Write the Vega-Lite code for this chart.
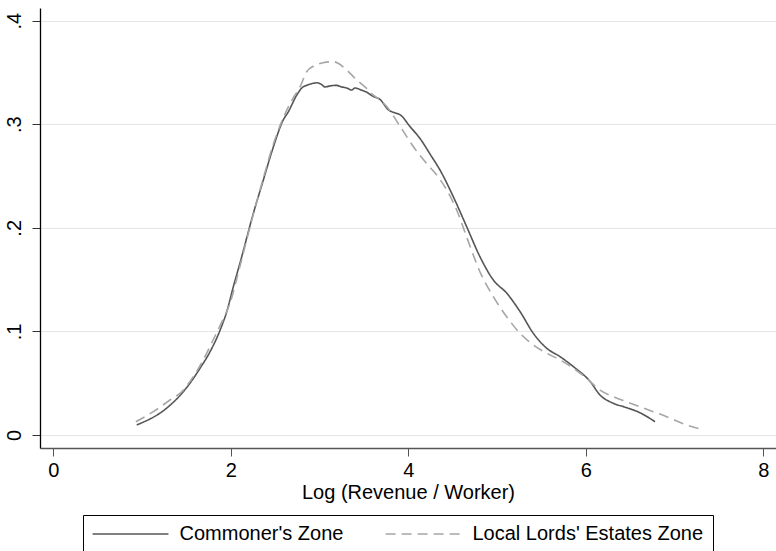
{
  "$schema": "https://vega.github.io/schema/vega-lite/v6.json",
  "width": 736,
  "height": 440,
  "autosize": {"type": "none"},
  "padding": {"left": 40, "top": 8, "right": 0, "bottom": 103},
  "background": "white",
  "config": {
    "view": {"stroke": null},
    "font": "Liberation Sans",
    "axis": {"labelFont": "Liberation Sans", "titleFont": "Liberation Sans", "labelColor": "black", "titleColor": "black", "titleFontWeight": "normal"},
    "legend": {"labelFont": "Liberation Sans"}
  },
  "data": {
    "values": [
      {"x": 0.94, "y": 0.0097, "zone": "Commoner's Zone"},
      {"x": 1.26, "y": 0.0248, "zone": "Commoner's Zone"},
      {"x": 1.465, "y": 0.0418, "zone": "Commoner's Zone"},
      {"x": 1.54, "y": 0.050, "zone": "Commoner's Zone"},
      {"x": 1.653, "y": 0.0644, "zone": "Commoner's Zone"},
      {"x": 1.766, "y": 0.0804, "zone": "Commoner's Zone"},
      {"x": 1.88, "y": 0.1014, "zone": "Commoner's Zone"},
      {"x": 1.954, "y": 0.119, "zone": "Commoner's Zone"},
      {"x": 2.028, "y": 0.143, "zone": "Commoner's Zone"},
      {"x": 2.11, "y": 0.168, "zone": "Commoner's Zone"},
      {"x": 2.254, "y": 0.214, "zone": "Commoner's Zone"},
      {"x": 2.366, "y": 0.246, "zone": "Commoner's Zone"},
      {"x": 2.479, "y": 0.278, "zone": "Commoner's Zone"},
      {"x": 2.59, "y": 0.304, "zone": "Commoner's Zone"},
      {"x": 2.648, "y": 0.312, "zone": "Commoner's Zone"},
      {"x": 2.742, "y": 0.328, "zone": "Commoner's Zone"},
      {"x": 2.80, "y": 0.335, "zone": "Commoner's Zone"},
      {"x": 2.87, "y": 0.338, "zone": "Commoner's Zone"},
      {"x": 2.93, "y": 0.3395, "zone": "Commoner's Zone"},
      {"x": 2.968, "y": 0.340, "zone": "Commoner's Zone"},
      {"x": 3.02, "y": 0.3385, "zone": "Commoner's Zone"},
      {"x": 3.06, "y": 0.336, "zone": "Commoner's Zone"},
      {"x": 3.12, "y": 0.337, "zone": "Commoner's Zone"},
      {"x": 3.19, "y": 0.3375, "zone": "Commoner's Zone"},
      {"x": 3.25, "y": 0.336, "zone": "Commoner's Zone"},
      {"x": 3.306, "y": 0.335, "zone": "Commoner's Zone"},
      {"x": 3.36, "y": 0.333, "zone": "Commoner's Zone"},
      {"x": 3.40, "y": 0.335, "zone": "Commoner's Zone"},
      {"x": 3.47, "y": 0.333, "zone": "Commoner's Zone"},
      {"x": 3.53, "y": 0.331, "zone": "Commoner's Zone"},
      {"x": 3.60, "y": 0.327, "zone": "Commoner's Zone"},
      {"x": 3.68, "y": 0.324, "zone": "Commoner's Zone"},
      {"x": 3.778, "y": 0.3137, "zone": "Commoner's Zone"},
      {"x": 3.85, "y": 0.311, "zone": "Commoner's Zone"},
      {"x": 3.91, "y": 0.309, "zone": "Commoner's Zone"},
      {"x": 4.02, "y": 0.2976, "zone": "Commoner's Zone"},
      {"x": 4.13, "y": 0.2864, "zone": "Commoner's Zone"},
      {"x": 4.264, "y": 0.2686, "zone": "Commoner's Zone"},
      {"x": 4.357, "y": 0.2558, "zone": "Commoner's Zone"},
      {"x": 4.507, "y": 0.230, "zone": "Commoner's Zone"},
      {"x": 4.658, "y": 0.201, "zone": "Commoner's Zone"},
      {"x": 4.808, "y": 0.172, "zone": "Commoner's Zone"},
      {"x": 4.958, "y": 0.1496, "zone": "Commoner's Zone"},
      {"x": 5.11, "y": 0.1368, "zone": "Commoner's Zone"},
      {"x": 5.26, "y": 0.119, "zone": "Commoner's Zone"},
      {"x": 5.41, "y": 0.098, "zone": "Commoner's Zone"},
      {"x": 5.56, "y": 0.0837, "zone": "Commoner's Zone"},
      {"x": 5.71, "y": 0.0756, "zone": "Commoner's Zone"},
      {"x": 5.86, "y": 0.066, "zone": "Commoner's Zone"},
      {"x": 6.05, "y": 0.0515, "zone": "Commoner's Zone"},
      {"x": 6.16, "y": 0.0386, "zone": "Commoner's Zone"},
      {"x": 6.31, "y": 0.0306, "zone": "Commoner's Zone"},
      {"x": 6.46, "y": 0.0264, "zone": "Commoner's Zone"},
      {"x": 6.61, "y": 0.0215, "zone": "Commoner's Zone"},
      {"x": 6.78, "y": 0.0128, "zone": "Commoner's Zone"},
      {"x": 0.93, "y": 0.0128, "zone": "Local Lords' Estates Zone"},
      {"x": 1.127, "y": 0.0225, "zone": "Local Lords' Estates Zone"},
      {"x": 1.315, "y": 0.0338, "zone": "Local Lords' Estates Zone"},
      {"x": 1.447, "y": 0.0418, "zone": "Local Lords' Estates Zone"},
      {"x": 1.577, "y": 0.0563, "zone": "Local Lords' Estates Zone"},
      {"x": 1.69, "y": 0.0724, "zone": "Local Lords' Estates Zone"},
      {"x": 1.80, "y": 0.0917, "zone": "Local Lords' Estates Zone"},
      {"x": 1.90, "y": 0.1094, "zone": "Local Lords' Estates Zone"},
      {"x": 1.99, "y": 0.127, "zone": "Local Lords' Estates Zone"},
      {"x": 2.10, "y": 0.162, "zone": "Local Lords' Estates Zone"},
      {"x": 2.25, "y": 0.212, "zone": "Local Lords' Estates Zone"},
      {"x": 2.37, "y": 0.249, "zone": "Local Lords' Estates Zone"},
      {"x": 2.48, "y": 0.281, "zone": "Local Lords' Estates Zone"},
      {"x": 2.59, "y": 0.306, "zone": "Local Lords' Estates Zone"},
      {"x": 2.70, "y": 0.325, "zone": "Local Lords' Estates Zone"},
      {"x": 2.78, "y": 0.336, "zone": "Local Lords' Estates Zone"},
      {"x": 2.855, "y": 0.3507, "zone": "Local Lords' Estates Zone"},
      {"x": 2.93, "y": 0.356, "zone": "Local Lords' Estates Zone"},
      {"x": 3.04, "y": 0.3594, "zone": "Local Lords' Estates Zone"},
      {"x": 3.155, "y": 0.3604, "zone": "Local Lords' Estates Zone"},
      {"x": 3.21, "y": 0.3588, "zone": "Local Lords' Estates Zone"},
      {"x": 3.306, "y": 0.3523, "zone": "Local Lords' Estates Zone"},
      {"x": 3.42, "y": 0.3427, "zone": "Local Lords' Estates Zone"},
      {"x": 3.53, "y": 0.3346, "zone": "Local Lords' Estates Zone"},
      {"x": 3.606, "y": 0.328, "zone": "Local Lords' Estates Zone"},
      {"x": 3.68, "y": 0.3235, "zone": "Local Lords' Estates Zone"},
      {"x": 3.757, "y": 0.317, "zone": "Local Lords' Estates Zone"},
      {"x": 3.91, "y": 0.2976, "zone": "Local Lords' Estates Zone"},
      {"x": 4.06, "y": 0.278, "zone": "Local Lords' Estates Zone"},
      {"x": 4.207, "y": 0.262, "zone": "Local Lords' Estates Zone"},
      {"x": 4.32, "y": 0.251, "zone": "Local Lords' Estates Zone"},
      {"x": 4.433, "y": 0.2365, "zone": "Local Lords' Estates Zone"},
      {"x": 4.546, "y": 0.217, "zone": "Local Lords' Estates Zone"},
      {"x": 4.658, "y": 0.191, "zone": "Local Lords' Estates Zone"},
      {"x": 4.81, "y": 0.157, "zone": "Local Lords' Estates Zone"},
      {"x": 4.958, "y": 0.1335, "zone": "Local Lords' Estates Zone"},
      {"x": 5.11, "y": 0.114, "zone": "Local Lords' Estates Zone"},
      {"x": 5.26, "y": 0.098, "zone": "Local Lords' Estates Zone"},
      {"x": 5.41, "y": 0.0869, "zone": "Local Lords' Estates Zone"},
      {"x": 5.56, "y": 0.0789, "zone": "Local Lords' Estates Zone"},
      {"x": 5.71, "y": 0.0724, "zone": "Local Lords' Estates Zone"},
      {"x": 5.86, "y": 0.0644, "zone": "Local Lords' Estates Zone"},
      {"x": 6.01, "y": 0.0547, "zone": "Local Lords' Estates Zone"},
      {"x": 6.16, "y": 0.0434, "zone": "Local Lords' Estates Zone"},
      {"x": 6.31, "y": 0.037, "zone": "Local Lords' Estates Zone"},
      {"x": 6.46, "y": 0.0321, "zone": "Local Lords' Estates Zone"},
      {"x": 6.61, "y": 0.0273, "zone": "Local Lords' Estates Zone"},
      {"x": 6.76, "y": 0.0225, "zone": "Local Lords' Estates Zone"},
      {"x": 6.91, "y": 0.0177, "zone": "Local Lords' Estates Zone"},
      {"x": 7.137, "y": 0.0097, "zone": "Local Lords' Estates Zone"},
      {"x": 7.29, "y": 0.0058, "zone": "Local Lords' Estates Zone"}
    ]
  },
  "mark": {"type": "line", "strokeWidth": 1.6, "interpolate": "monotone", "clip": true},
  "encoding": {
    "x": {
      "field": "x", "type": "quantitative",
      "scale": {"domain": [-0.15, 8.143], "nice": false, "zero": false},
      "axis": {
        "title": "Log (Revenue / Worker)", "titleFontSize": 20, "titlePadding": 2,
        "values": [0, 2, 4, 6, 8], "format": "d", "labelFontSize": 20, "labelPadding": 4,
        "tickSize": 8, "tickColor": "#555555", "domainColor": "#555555", "domainWidth": 1.3,
        "grid": false, "labelFlush": false
      }
    },
    "y": {
      "field": "y", "type": "quantitative",
      "scale": {"domain": [-0.01255, 0.4122], "nice": false, "zero": false},
      "axis": {
        "title": null, "values": [0, 0.1, 0.2, 0.3, 0.4],
        "labelExpr": "datum.value == 0 ? '0' : replace(format(datum.value, '.1f'), '0.', '.')",
        "labelFontSize": 20, "labelAngle": 270, "labelAlign": "center", "labelBaseline": "bottom",
        "labelPadding": 8, "tickSize": 8, "tickColor": "#333333", "domainColor": "black", "domainWidth": 1.3,
        "grid": true, "gridColor": "#e6e6e6", "gridWidth": 1.2, "labelFlush": false
      }
    },
    "color": {
      "field": "zone", "type": "nominal",
      "scale": {"domain": ["Commoner's Zone", "Local Lords' Estates Zone"], "range": ["#555555", "#a6a6a6"]},
      "legend": {
        "title": null, "orient": "none", "legendX": 43, "legendY": 507,
        "direction": "horizontal", "columns": 2, "symbolType": "M-8,0H8", "symbolSize": 90,
        "symbolOffset": 28.5,
        "symbolStrokeWidth": 1.6, "labelFontSize": 20, "labelOffset": 39, "columnPadding": 38,
        "padding": 9, "strokeColor": "black", "fillColor": "white", "labelColor": "black", "labelLimit": 400
      }
    },
    "strokeDash": {
      "field": "zone", "type": "nominal",
      "scale": {"domain": ["Commoner's Zone", "Local Lords' Estates Zone"], "range": [[1, 0], [10, 6]]},
      "legend": null
    }
  }
}
